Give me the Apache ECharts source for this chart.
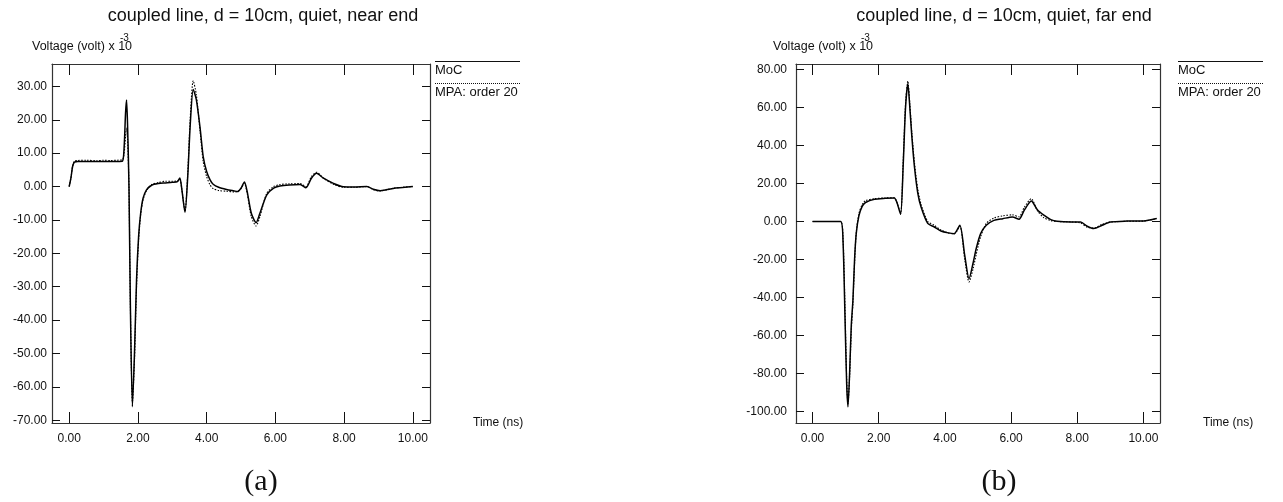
<!DOCTYPE html>
<html><head><meta charset="utf-8">
<script src="https://cdn.jsdelivr.net/npm/echarts@6/dist/echarts.min.js"></script>
<style>html,body{margin:0;padding:0;background:#fff}#c{width:1283px;height:502px}</style>
</head><body><div id="c"></div>
<script>
// ---- data ----
const nearTime = [0.00,0.05,0.10,0.15,0.25,0.50,0.80,1.00,1.20,1.40,1.55,1.60,1.64,1.67,1.70,1.74,1.78,1.84,1.90,1.96,2.02,2.08,2.15,2.25,2.40,2.60,2.80,3.00,3.15,3.22,3.28,3.37,3.45,3.52,3.61,3.70,3.81,3.90,4.00,4.10,4.19,4.35,4.58,4.80,4.90,5.00,5.10,5.18,5.30,5.44,5.55,5.75,5.95,6.13,6.40,6.72,6.89,7.05,7.20,7.40,7.69,7.98,8.30,8.66,8.85,9.05,9.25,9.43,9.70,10.00];
const nearMoC  = [0,2.5,6.0,7.3,7.5,7.5,7.5,7.5,7.5,7.5,7.6,12,22,25.9,18,0,-35,-65.9,-50,-28,-15,-8,-3.5,-1,0.4,0.9,1.1,1.3,1.5,2.6,-1,-7.7,3,18,29.1,26,17.5,9,4.5,2,0.7,-0.2,-0.85,-1.3,-1.5,-0.5,1.4,-1.5,-8,-10.8,-8,-2.5,-0.5,0.15,0.5,0.65,-0.35,2.5,3.95,2.5,0.95,-0.05,-0.1,0,-0.8,-1.25,-0.9,-0.55,-0.3,0];
const nearMPA  = [0,2.5,6.2,7.6,7.8,7.9,7.7,7.9,7.8,7.9,8.0,10,15,17.5,14,0,-35,-64.5,-52,-30,-16,-8.5,-4,-1.2,0.6,1.2,1.6,1.6,1.7,2.2,-1,-7.4,4,20,31.7,27.5,16.5,7.5,3,0.5,-0.6,-1.2,-1.4,-1.6,-1.5,-0.6,1.0,-2.0,-9,-11.8,-9,-2,0,0.6,0.8,0.9,0,3,4.3,2.5,0.7,-0.2,-0.2,0,-0.9,-1.3,-0.9,-0.5,-0.2,0];

const farTime = [0.00,0.50,0.85,0.92,0.98,1.03,1.07,1.12,1.17,1.22,1.27,1.32,1.40,1.50,1.60,1.87,2.20,2.47,2.55,2.66,2.74,2.81,2.88,2.94,3.00,3.08,3.18,3.28,3.48,3.68,3.88,4.10,4.28,4.45,4.60,4.73,4.85,4.95,5.08,5.25,5.48,5.75,6.04,6.24,6.40,6.61,6.80,6.99,7.20,7.39,7.80,8.10,8.30,8.50,8.75,9.00,9.50,10.00,10.40];
const farMoC  = [0,0,0,-10,-50,-85,-97.7,-80,-55,-41.5,-20,-6.4,3,8,10,11.7,12.2,12.4,10,3.8,30,60,72.6,60,45,28.7,15,7.6,-1,-2.9,-5,-6,-6.4,-2.0,-18,-30.1,-22,-14,-6.4,-2,0.6,1.5,2.4,1.2,6,10.8,6,3.3,1,0.1,-0.3,-0.3,-2.5,-3.7,-2,-0.3,0.2,0.3,1.6];
const farMPA  = [0,0,0,-8,-45,-82,-96,-82,-58,-43,-22,-6,4,9,11,12,12.4,12.5,10,4,32,62,74,62,47,31,17,9,0,-2,-4.5,-6,-6.5,-2.5,-20,-31.9,-25,-17,-8,-1,1.8,3,3.5,2.5,7.5,12,5.5,2,0.5,0,-0.2,-0.8,-3,-3.5,-1.5,-0.3,0.1,0.2,1.6];

const timeTicks = [0, 2, 4, 6, 8, 10];
const nearVoltTicks = [-70, -60, -50, -40, -30, -20, -10, 0, 10, 20, 30];
const farVoltTicks = [-100, -80, -60, -40, -20, 0, 20, 40, 60, 80];
const chartTitles = ['coupled line, d = 10cm, quiet, near end', 'coupled line, d = 10cm, quiet, far end'];
const seriesNames = ['MoC', 'MPA: order 20'];
const yAxisTitle = 'Voltage (volt) x 10';
const yAxisExp = '-3';
const xAxisTitle = 'Time (ns)';
const captions = ['(a)', '(b)'];

// ---- chart ----
const FONT = '"Liberation Sans", Arial, sans-serif';
const INK = '#111';
const FRAME = '#333';
const chart = echarts.init(document.getElementById('c'), null, {renderer: 'canvas'});

function xAx(gi, pos, show) {
  return {
    type: 'value', gridIndex: gi, position: pos, min: -0.5, max: 10.5,
    axisLine: {show: true, onZero: false, lineStyle: {color: FRAME, width: 1.2}},
    axisTick: {show: true, inside: true, length: 11, customValues: timeTicks, lineStyle: {color: INK, width: 1}},
    axisLabel: {show: show, customValues: timeTicks, formatter: v => v.toFixed(2), margin: 10,
      color: INK, fontSize: 12, fontFamily: FONT},
    splitLine: {show: false}
  };
}
function yAx(gi, pos, show, mn, mx, ticks, margin) {
  return {
    type: 'value', gridIndex: gi, position: pos, min: mn, max: mx,
    axisLine: {show: true, onZero: false, lineStyle: {color: FRAME, width: 1.2}},
    axisTick: {show: true, inside: true, length: 8, customValues: ticks, lineStyle: {color: INK, width: 1}},
    axisLabel: {show: show, customValues: ticks, formatter: v => v.toFixed(2), margin: margin,
      color: INK, fontSize: 12, fontFamily: FONT},
    splitLine: {show: false}
  };
}
function pairs(t, v) { return t.map((x, i) => [x, v[i]]); }

const panels = [
  {gx: 52, gw: 378, titleX: 263, ylabX: 32, legX: 435, capX: 261, timeX: 473},
  {gx: 796, gw: 364, titleX: 1004, ylabX: 773, legX: 1178, capX: 999, timeX: 1203}
];

const graphics = [];
panels.forEach((p, i) => {
  graphics.push({type: 'text', x: p.titleX, y: 16, style: {text: chartTitles[i], font: '18px ' + FONT, fill: INK, textAlign: 'center', textVerticalAlign: 'middle'}});
  graphics.push({type: 'text', x: p.ylabX, y: 47, style: {text: yAxisTitle, font: '12.5px ' + FONT, fill: INK, textAlign: 'left', textVerticalAlign: 'middle'}});
  graphics.push({type: 'text', x: p.ylabX + 88, y: 38, style: {text: yAxisExp, font: '10px ' + FONT, fill: INK, textAlign: 'left', textVerticalAlign: 'middle'}});
  graphics.push({type: 'text', x: p.timeX, y: 423, style: {text: xAxisTitle, font: '12px ' + FONT, fill: INK, textAlign: 'left', textVerticalAlign: 'middle'}});
  graphics.push({type: 'line', shape: {x1: p.legX, y1: 61.5, x2: p.legX + 85, y2: 61.5}, style: {stroke: INK, lineWidth: 1.2}});
  graphics.push({type: 'text', x: p.legX, y: 70, style: {text: seriesNames[0], font: '13px ' + FONT, fill: INK, textAlign: 'left', textVerticalAlign: 'middle'}});
  graphics.push({type: 'line', shape: {x1: p.legX, y1: 83.5, x2: p.legX + 85, y2: 83.5}, style: {stroke: INK, lineWidth: 1, lineDash: [1, 1]}});
  graphics.push({type: 'text', x: p.legX, y: 92, style: {text: seriesNames[1], font: '13px ' + FONT, fill: INK, textAlign: 'left', textVerticalAlign: 'middle'}});
  graphics.push({type: 'text', x: p.capX, y: 482, style: {text: captions[i], font: '30px "Liberation Serif", "DejaVu Serif", serif', fill: INK, textAlign: 'center', textVerticalAlign: 'middle'}});
});

const option = {
  backgroundColor: '#fff',
  animation: false,
  grid: [
    {left: panels[0].gx, top: 64, width: panels[0].gw, height: 359},
    {left: panels[1].gx, top: 64, width: panels[1].gw, height: 359}
  ],
  xAxis: [xAx(0, 'bottom', true), xAx(0, 'top', false), xAx(1, 'bottom', true), xAx(1, 'top', false)],
  yAxis: [
    yAx(0, 'left', true, -70.8, 36.7, nearVoltTicks, 5),
    yAx(0, 'right', false, -70.8, 36.7, nearVoltTicks, 5),
    yAx(1, 'left', true, -106.2, 83, farVoltTicks, 9),
    yAx(1, 'right', false, -106.2, 83, farVoltTicks, 9)
  ],
  series: [
    {name: seriesNames[1], type: 'line', xAxisIndex: 0, yAxisIndex: 0, data: pairs(nearTime, nearMPA), showSymbol: false, smooth: 0.25,
      lineStyle: {color: '#000', width: 1.1, type: [1.5, 1.5]}},
    {name: seriesNames[0], type: 'line', xAxisIndex: 0, yAxisIndex: 0, data: pairs(nearTime, nearMoC), showSymbol: false, smooth: 0.25,
      lineStyle: {color: '#000', width: 1.5}},
    {name: seriesNames[1], type: 'line', xAxisIndex: 2, yAxisIndex: 2, data: pairs(farTime, farMPA), showSymbol: false, smooth: 0.25,
      lineStyle: {color: '#000', width: 1.1, type: [1.5, 1.5]}},
    {name: seriesNames[0], type: 'line', xAxisIndex: 2, yAxisIndex: 2, data: pairs(farTime, farMoC), showSymbol: false, smooth: 0.25,
      lineStyle: {color: '#000', width: 1.5}}
  ],
  graphic: graphics
};
chart.setOption(option);
</script>
</body></html>
